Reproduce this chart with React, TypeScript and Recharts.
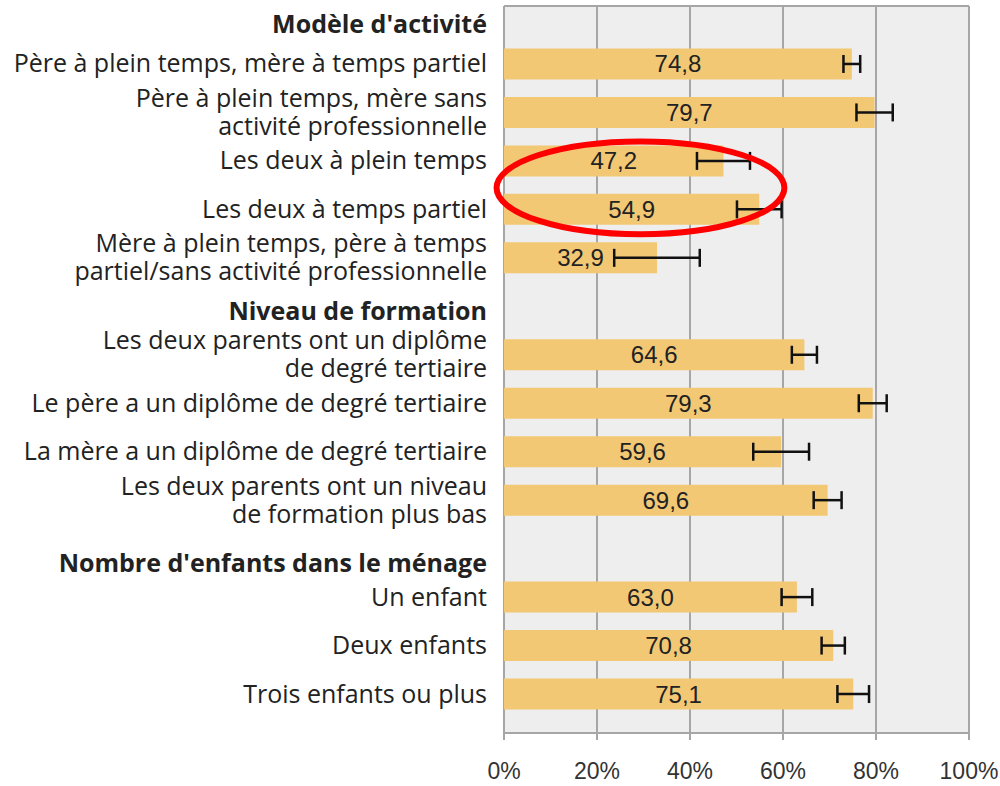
import { Bar, BarChart, CartesianGrid, ErrorBar, LabelList, ReferenceArea, XAxis, YAxis } from "recharts";

// rows of the chart, headers are rows without a bar
const categories = [
  "Modèle d'activité",
  "Père à plein temps, mère à temps partiel",
  "Père à plein temps, mère sans\nactivité professionnelle",
  "Les deux à plein temps",
  "Les deux à temps partiel",
  "Mère à plein temps, père à temps\npartiel/sans activité professionnelle",
  "Niveau de formation",
  "Les deux parents ont un diplôme\nde degré tertiaire",
  "Le père a un diplôme de degré tertiaire",
  "La mère a un diplôme de degré tertiaire",
  "Les deux parents ont un niveau\nde formation plus bas",
  "Nombre d'enfants dans le ménage",
  "Un enfant",
  "Deux enfants",
  "Trois enfants ou plus",
];

const headers = ["Modèle d'activité", "Niveau de formation", "Nombre d'enfants dans le ménage"];

const values = [null, 74.8, 79.7, 47.2, 54.9, 32.9, null, 64.6, 79.3, 59.6, 69.6, null, 63.0, 70.8, 75.1];
const errors = [null, 1.8, 3.9, 5.7, 4.8, 9.2, null, 2.7, 3.0, 6.0, 3.0, null, 3.3, 2.5, 3.4];

const xTicks = [0, 20, 40, 60, 80, 100];

const data = categories.map((name, i) => ({
  name,
  value: values[i],
  err: errors[i] ?? undefined,
}));

const GRID = "#a6a6a6";
const TEXT = "#222222";

// headers sit a bit lower than the middle of their row
const headerShift: Record<string, number> = {
  "Modèle d'activité": 9,
  "Niveau de formation": 5,
  "Nombre d'enfants dans le ménage": 15,
};

const CategoryTick = (props: any) => {
  const { x, y, payload } = props;
  const label: string = payload.value;
  const lines = label.split("\n");
  const isHeader = headers.includes(label);
  const lineH = 28;
  const y0 = y + (headerShift[label] ?? 0) - ((lines.length - 1) * lineH) / 2;
  return (
    <text
      x={x}
      y={y0}
      textAnchor="end"
      fill={TEXT}
      fontSize={25}
      fontFamily="'Open Sans', sans-serif"
      fontWeight={isHeader ? "bold" : "normal"}
    >
      {lines.map((l, i) => (
        <tspan key={i} x={x} y={y0 + i * lineH} dy="0.35em">
          {l}
        </tspan>
      ))}
    </text>
  );
};

const Ellipse = (props: any) => {
  const { x, y, width, height } = props;
  return (
    <ellipse
      cx={x + width / 2}
      cy={y + height / 2 + 3}
      rx={width / 2}
      ry={height / 2 - 2}
      fill="none"
      stroke="#ff0000"
      strokeWidth={6}
    />
  );
};

export default function App() {
  return (
    <div style={{ position: "absolute", left: 0, top: 0, background: "#fff" }}>
      <BarChart
        width={1000}
        height={786}
        data={data}
        layout="vertical"
        margin={{ top: 6, right: 31, left: 0, bottom: 0 }}
      >
        <CartesianGrid
          fill="#eeeeee"
          stroke={GRID}
          strokeWidth={2}
          horizontalCoordinatesGenerator={({ offset }: any) => [offset.top, offset.top + offset.height]}
        />
        <XAxis
          type="number"
          domain={[0, 100]}
          ticks={xTicks}
          tickFormatter={(v) => `${v}%`}
          height={53}
          tickSize={7}
          tickMargin={23}
          axisLine={{ stroke: GRID, strokeWidth: 2 }}
          tickLine={{ stroke: GRID, strokeWidth: 2 }}
          tick={{ fill: "#333", fontSize: 23, fontFamily: "'Liberation Sans', Arial, sans-serif" }}
        />
        <YAxis
          type="category"
          dataKey="name"
          width={504}
          axisLine={false}
          tickLine={false}
          tickSize={0}
          tickMargin={17}
          interval={0}
          padding={{ top: -15, bottom: 15 }}
          tick={<CategoryTick />}
        />
        <Bar dataKey="value" fill="#f2c875" barSize={31} isAnimationActive={false}>
          <LabelList
            dataKey="value"
            position="center"
            fill={TEXT}
            fontSize={24}
            fontFamily="'Liberation Sans', Arial, sans-serif"
            formatter={(v: any) => (v == null ? "" : Number(v).toFixed(1).replace(".", ","))}
          />
          <ErrorBar dataKey="err" direction="x" width={9} stroke="#111" strokeWidth={2.5} />
        </Bar>
        <ReferenceArea
          x1={-1.6}
          x2={60.3}
          y1={categories[3]}
          y2={categories[4]}
          ifOverflow="visible"
          shape={<Ellipse />}
          zIndex={3000}
        />
      </BarChart>
    </div>
  );
}
